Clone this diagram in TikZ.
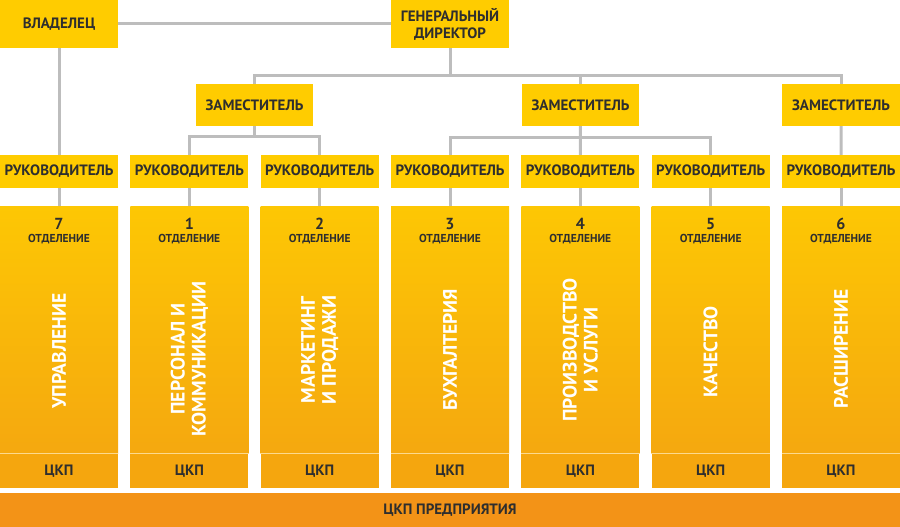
\documentclass[tikz,border=0pt]{standalone}
\usepackage{fontspec}
\setmainfont{PT Sans}
\usetikzlibrary{positioning}
\definecolor{boxyellow}{HTML}{FFCC00}
\definecolor{linegray}{HTML}{BDBDBD}
\definecolor{textdark}{HTML}{2E2E2E}
\definecolor{depttop}{HTML}{FDC704}
\definecolor{deptbottom}{HTML}{F5A80F}
\definecolor{ckpfill}{HTML}{F5A60E}
\definecolor{barorange}{HTML}{F39317}
\definecolor{seam}{HTML}{FCD98E}
\tikzset{
  headbox/.style={fill=boxyellow, text=textdark, inner sep=0pt, align=center,
    font=\bfseries\fontsize{15}{17}\selectfont, minimum width=118pt},
  deptbox/.style={top color=depttop, bottom color=deptbottom, inner sep=0pt,
    minimum width=118pt, minimum height=247pt},
  ckpbox/.style={fill=ckpfill, text=textdark, inner sep=0pt, minimum width=118pt,
    minimum height=34pt, font=\bfseries\fontsize{15}{17}\selectfont},
  numtext/.style={text=textdark, font=\bfseries\fontsize{16}{17}\selectfont},
  unittext/.style={text=textdark, font=\bfseries\fontsize{11.5}{12}\selectfont},
  titletext/.style={text=white, rotate=90, align=center,
    font=\bfseries\fontsize{19.5}{21}\selectfont},
  link/.style={draw=linegray, line width=3pt}
}
\begin{document}
\begin{tikzpicture}[x=1pt,y=-1pt]
\useasboundingbox (0,0) rectangle (900,527);
% top level
\node[headbox, minimum height=48pt] (vlad) at (59,24) {ВЛАДЕЛЕЦ};
\node[headbox, minimum height=48pt] (gd) at (450,24) {ГЕНЕРАЛЬНЫЙ\\ДИРЕКТОР};
% deputies
\node[headbox, minimum height=42pt, minimum width=117pt] (zam1) at (254.5,105) {ЗАМЕСТИТЕЛЬ};
\node[headbox, minimum height=42pt, minimum width=117pt] (zam2) at (580.5,105) {ЗАМЕСТИТЕЛЬ};
\node[headbox, minimum height=42pt] (zam3) at (841,105) {ЗАМЕСТИТЕЛЬ};
% heads and departments
\foreach \k/\num/\ty/\name in {1/7/351/{УПРАВЛЕНИЕ},
    2/1/359/{ПЕРСОНАЛ И\\КОММУНИКАЦИИ},
    3/2/350/{МАРКЕТИНГ\\И ПРОДАЖИ},
    4/3/350/{БУХГАЛТЕРИЯ},
    5/4/350/{ПРОИЗВОДСТВО\\И УСЛУГИ},
    6/5/352/{КАЧЕСТВО},
    7/6/349/{РАСШИРЕНИЕ}}{
  \pgfmathsetmacro\cx{59+130.333*(\k-1)}
  \node[headbox, minimum height=33pt] (ruk\k) at (\cx,171.5) {РУКОВОДИТЕЛЬ};
  \node[deptbox, below=18pt of ruk\k] (dept\k) {};
  \node[ckpbox, below=0pt of dept\k] (ckp\k) {ЦКП};
  \draw[seam, line width=1pt] (ckp\k.north west) -- (ckp\k.north east);
  \node[numtext] (num\k) at (\cx,224) {\num};
  \node[unittext] (unit\k) at (\cx,239.5) {ОТДЕЛЕНИЕ};
  \node[titletext] (title\k) at (\cx,\ty) {\name};
}
% bottom bar
\node[fill=barorange, text=textdark, inner sep=0pt, minimum width=900pt, minimum height=34pt,
  font=\bfseries\fontsize{15}{17}\selectfont] (bar) at (450,510) {ЦКП ПРЕДПРИЯТИЯ};
% connectors
\draw[link] (vlad) -- (gd);
\draw[link] (vlad) -- (ruk1);
\draw[link] (gd.south) -- ++(0,27) -| (zam1.north);
\draw[link] (gd.south) -- ++(0,27) -| (zam3.north);
\draw[link] (gd.south) -- ++(0,27) -| (zam2.north);
\draw[link] (zam1.south) -- ++(0,10) -| (ruk2.north);
\draw[link] (zam1.south) -- ++(0,10) -| (ruk3.north);
\draw[link] (zam2.south) -- ++(0,11) -| (ruk4.north);
\draw[link] (zam2.south) -- ++(0,11) -| (ruk6.north);
\draw[link] (zam2) -- (ruk5);
\draw[link] (zam3) -- (ruk7);
\foreach \k in {1,...,7}{
  \draw[link] (ruk\k) -- (dept\k);
}
\end{tikzpicture}
\end{document}
